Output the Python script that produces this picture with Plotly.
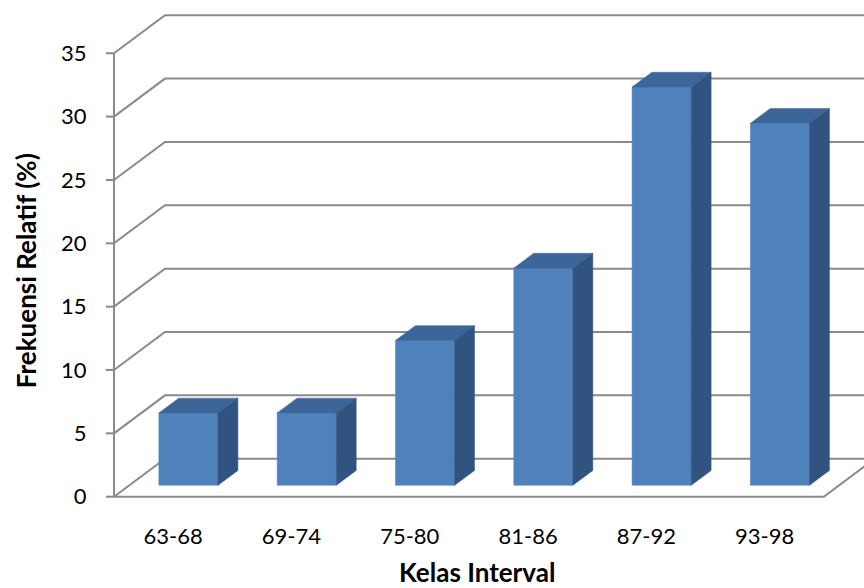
import plotly.graph_objects as go

# Relative frequency (%) per score class interval
categories = ["63-68", "69-74", "75-80", "81-86", "87-92", "93-98"]
frekuensi_relatif = [5.71, 5.71, 11.43, 17.14, 31.43, 28.57]
y_ticks = [0, 5, 10, 15, 20, 25, 30, 35]
y_max = 35

# Oblique 3-D projection: how far the back wall sits, in axis units
DEPTH_X = 0.431   # horizontal shift of the back wall (category units)
DEPTH_Y = 3.0     # vertical shift of the back wall (value units)
BAR_HALF = 0.25   # half bar width (category units)
BAR_D0, BAR_D1 = 0.30, 0.69  # bar depth span as a fraction of the full depth

GRID = "#8A8A8A"
FRONT = "#4F81BD"
TOP = "#3C6598"
SIDE = "#30537F"


def proj(x, v, d):
    """Project a point (category x, value v, depth fraction d) to the 2-D axes."""
    return x + d * DEPTH_X, v + d * DEPTH_Y


n = len(categories)
x_left, x_right = -0.5, n - 0.5

fig = go.Figure()

# Back wall gridlines and the left side wall diagonals
gx, gy = [], []
for t in y_ticks:
    for p in (proj(x_left, t, 0), proj(x_left, t, 1), proj(x_right, t, 1)):
        gx.append(p[0]); gy.append(p[1])
    gx.append(None); gy.append(None)
fig.add_trace(go.Scatter(x=gx, y=gy, mode="lines",
                         line=dict(color=GRID, width=2), hoverinfo="skip"))

# Floor outline: front edge and right diagonal
fx, fy = [], []
for p in (proj(x_left, 0, 0), proj(x_right, 0, 0), proj(x_right, 0, 1)):
    fx.append(p[0]); fy.append(p[1])
fig.add_trace(go.Scatter(x=fx, y=fy, mode="lines",
                         line=dict(color=GRID, width=2), hoverinfo="skip"))

# Front value axis with its tick marks
tick_len = 0.068  # category units
ax_x = [x_left, x_left, None]
ax_y = [0, y_max, None]
for t in y_ticks:
    ax_x += [x_left - tick_len, x_left, None]
    ax_y += [t, t, None]
fig.add_trace(go.Scatter(x=ax_x, y=ax_y, mode="lines",
                         line=dict(color=GRID, width=2), hoverinfo="skip"))


def face(points, color):
    xs = [p[0] for p in points] + [points[0][0]]
    ys = [p[1] for p in points] + [points[0][1]]
    fig.add_trace(go.Scatter(x=xs, y=ys, mode="lines", fill="toself",
                             fillcolor=color, line=dict(color=color, width=0.5),
                             hoverinfo="skip"))


# 3-D bars: front, top and right side faces
for i, val in enumerate(frekuensi_relatif):
    x0, x1 = i - BAR_HALF, i + BAR_HALF
    face([proj(x0, 0, BAR_D0), proj(x1, 0, BAR_D0),
          proj(x1, val, BAR_D0), proj(x0, val, BAR_D0)], FRONT)
    face([proj(x0, val, BAR_D0), proj(x1, val, BAR_D0),
          proj(x1, val, BAR_D1), proj(x0, val, BAR_D1)], TOP)
    face([proj(x1, 0, BAR_D0), proj(x1, 0, BAR_D1),
          proj(x1, val, BAR_D1), proj(x1, val, BAR_D0)], SIDE)

FONT = "Lato, 'Open Sans', sans-serif"

fig.update_layout(
    width=864, height=588,
    margin=dict(l=104, r=0, t=10, b=88),
    paper_bgcolor="white", plot_bgcolor="white",
    showlegend=False, hovermode=False,
    font=dict(family=FONT, size=22, color="#000000"),
    xaxis=dict(
        range=[-0.5845, 5.8398], tickmode="array",
        tickvals=list(range(n)), ticktext=categories,
        showgrid=False, zeroline=False, showline=False,
        ticks="outside", ticklen=17, tickcolor="rgba(0,0,0,0)",
        tickfont=dict(size=22), fixedrange=True,
    ),
    yaxis=dict(
        range=[-0.2605, 38.413], tickmode="array",
        tickvals=y_ticks, ticktext=[str(t) for t in y_ticks],
        showgrid=False, zeroline=False, showline=False,
        ticks="outside", ticklen=12, tickcolor="rgba(0,0,0,0)",
        tickfont=dict(size=22), fixedrange=True,
    ),
    annotations=[
        dict(text="<b>Kelas Interval</b>", xref="paper", yref="paper",
             x=0.4914, y=-0.147, xanchor="center", yanchor="middle",
             showarrow=False, font=dict(size=26, family=FONT)),
        dict(text="<b>Frekuensi Relatif (%)</b>", xref="paper", yref="paper",
             x=0, xshift=-78, y=0.467, xanchor="center", yanchor="middle",
             textangle=-90, showarrow=False, font=dict(size=26, family=FONT)),
    ],
)

fig.write_html("out.html")
